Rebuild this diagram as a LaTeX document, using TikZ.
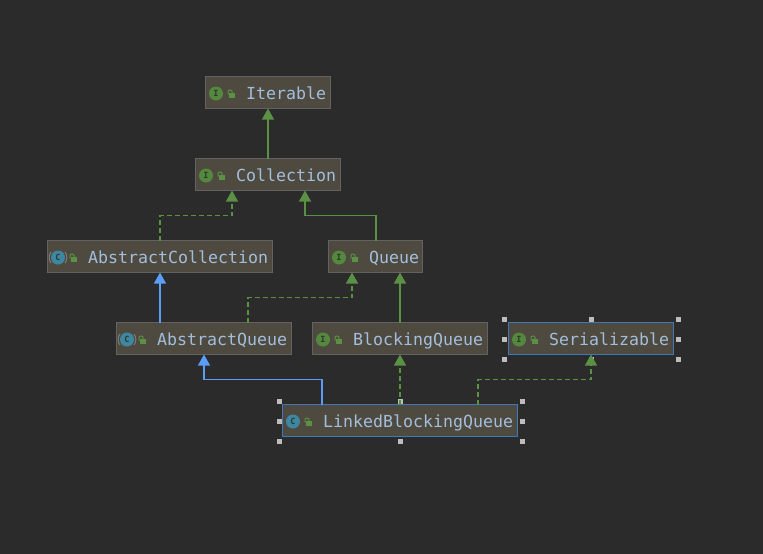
\documentclass[tikz,border=0pt]{standalone}
\usepackage{fontspec}
\setmonofont{DejaVu Sans Mono}
\usetikzlibrary{arrows.meta}
\definecolor{bgc}{HTML}{2B2B2B}
\definecolor{boxc}{HTML}{4E4A40}
\definecolor{edgec}{HTML}{626262}
\definecolor{selc}{HTML}{3F78B8}
\definecolor{txtc}{HTML}{A3BEDC}
\definecolor{grn}{HTML}{5B9145}
\definecolor{blu}{HTML}{5A9CF8}
\definecolor{icoI}{HTML}{54883F}
\definecolor{icoC}{HTML}{3D87A3}
\definecolor{icoT}{HTML}{2E3A2A}
\definecolor{hand}{HTML}{BDBDBD}
\tikzset{
  x=1pt,y=-1pt,
  umlbox/.style={draw=edgec,fill=boxc,line width=1pt,inner sep=0pt,outer sep=0pt},
  selbox/.style={draw=selc,fill=boxc,line width=1.2pt,inner sep=0pt,outer sep=0pt},
  lbl/.style={text=txtc,anchor=base west,inner sep=0pt,font=\fontsize{16.6}{18}\selectfont\ttfamily},
  icoletter/.style={inner sep=0pt,font=\fontsize{8.5}{9}\selectfont\ttfamily\bfseries,text=icoT},
  greenarrow/.style={draw=grn,line width=1.2pt,-{Triangle[width=12pt,length=11pt,fill=grn]}},
  greendash/.style={greenarrow,dash pattern=on 5pt off 3pt},
  bluearrow/.style={draw=blu,line width=1.2pt,-{Triangle[width=12pt,length=11pt,fill=blu]}},
  handle/.style={fill=hand,draw=none,minimum size=5pt,inner sep=0pt}
}
% name, left, top, right, bottom, text, letter, colour, style
\newcommand{\umlnode}[9]{%
  \node[#9,minimum width=#4pt-#2pt-1pt,minimum height=#5pt-#3pt-1pt,anchor=north west] (#1) at (#2+0.5,#3+0.5) {};
  \fill[#8] (#2+11,#3+17.5) circle (7);
  \node[icoletter] (#1i) at (#2+11,#3+17.5) {#7};
  \fill[grn] (#2+24,#3+17) rectangle (#2+30,#3+22);
  \draw[grn,line width=1pt] (#2+23,#3+18.5) -- (#2+23,#3+15.5) .. controls (#2+23,#3+13.5) and (#2+27,#3+13.5) .. (#2+27,#3+15.5) -- (#2+27,#3+17);
  \node[lbl] (#1t) at (#2+41,#3+23) {#6};
}
\begin{document}
\begin{tikzpicture}
\fill[bgc] (0,0) rectangle (763,554);
\useasboundingbox (0,0) rectangle (763,554);
\umlnode{iter}{205}{76}{331}{109}{Iterable}{I}{icoI}{umlbox}
\umlnode{coll}{195}{158}{341}{191}{Collection}{I}{icoI}{umlbox}
\umlnode{acoll}{47}{240}{273}{273}{AbstractCollection}{C}{icoC}{umlbox}
\umlnode{queue}{328}{240}{423}{273}{Queue}{I}{icoI}{umlbox}
\umlnode{aqueue}{116}{322}{292}{355}{AbstractQueue}{C}{icoC}{umlbox}
\umlnode{bqueue}{312}{322}{488}{355}{BlockingQueue}{I}{icoI}{umlbox}
\umlnode{ser}{508}{322}{674}{355}{Serializable}{I}{icoI}{selbox}
\umlnode{lbq}{282}{404}{518}{437}{LinkedBlockingQueue}{C}{icoC}{selbox}
% abstract-class halo
\foreach \cx/\cy in {58/257.5,127/339.5}{
  \draw[gray,line width=0.9pt] (\cx-7,\cy-5.5) .. controls (\cx-9.5,\cy-2) and (\cx-9.5,\cy+2) .. (\cx-7,\cy+5.5);
  \draw[gray,line width=0.9pt] (\cx+7,\cy-5.5) .. controls (\cx+9.5,\cy-2) and (\cx+9.5,\cy+2) .. (\cx+7,\cy+5.5);
}
% selection handles
\foreach \hx/\hy [count=\i] in {504/319,591/319,678/319,504/339,678/339,504/359,591/359,678/359}{
  \node[handle] (hs\i) at (\hx,\hy) {};
}
\foreach \hx/\hy [count=\i] in {279/401,400/401,522/401,279/421,522/421,279/441,400/441,522/441}{
  \node[handle] (hl\i) at (\hx,\hy) {};
}
% connectors
\draw[greenarrow] (coll.north) -- (iter.south);
\draw[greendash] (acoll.north) -- ++(0,-25) -| ([xshift=-36pt]coll.south);
\draw[greenarrow] ([xshift=0.5pt]queue.north) -- ++(0,-25) -| ([xshift=37pt]coll.south);
\draw[bluearrow] ([xshift=-44pt]aqueue.north) -- (acoll.south);
\draw[greendash] ([xshift=44pt]aqueue.north) -- ++(0,-25) -| ([xshift=-23.5pt]queue.south);
\draw[greenarrow] (bqueue.north) -- ([xshift=24.5pt]queue.south);
\draw[bluearrow] ([xshift=-78pt]lbq.north) -- ++(0,-25) -| (aqueue.south);
\draw[greendash] (lbq.north) -- (bqueue.south);
\draw[greendash] ([xshift=78pt]lbq.north) -- ++(0,-25) -| (ser.south);
\end{tikzpicture}
\end{document}
